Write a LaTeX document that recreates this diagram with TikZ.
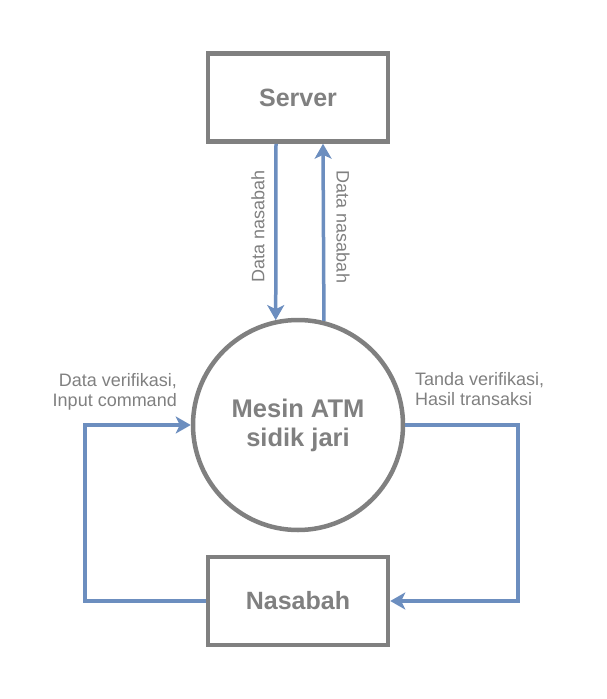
\documentclass[tikz,border=0pt]{standalone}
\usepackage{fontspec}
\setmainfont{Liberation Sans}
\usetikzlibrary{arrows.meta}
\definecolor{gborder}{HTML}{808080}
\definecolor{gtext}{HTML}{808080}
\definecolor{flowblue}{HTML}{6C8EBF}
\tikzset{
  entity/.style={draw=gborder, line width=4.5pt, fill=white, minimum width=180pt, minimum height=88pt,
    inner sep=0pt, text=gtext, font=\fontsize{25}{29}\selectfont\bfseries},
  process/.style={draw=gborder, line width=4.5pt, fill=white, circle, minimum size=210pt,
    inner sep=0pt, text=gtext, align=center, font=\fontsize{25.5}{29}\selectfont\bfseries},
  flow/.style={draw=flowblue, line width=3.5pt, line join=miter,
    -{Stealth[length=15pt, width=17pt, inset=4pt]}},
  lbl/.style={text=gtext, inner sep=0pt, font=\fontsize{18}{20}\selectfont}
}
\begin{document}
\begin{tikzpicture}[x=1pt, y=-1pt]
\useasboundingbox (0,0) rectangle (607,699);
\node[entity] (server) at (298,97.5) {Server};
\node[process] (atm) at (298,425) {Mesin ATM\\sidik jari};
\node[entity] (nas) at (298,601) {Nasabah};
\coordinate (lc) at (85,425);
\coordinate (rc) at (518,601);
\draw[flow] ([xshift=-22pt]server.south) -- (atm.102);
\draw[flow] (atm.76) -- ([xshift=25pt]server.south);
\draw[flow] (nas.west) -| (lc) -- (atm.west);
\draw[flow] (atm.east) -| (rc) -- (nas.east);
\node[lbl, rotate=90] (l1) at (258,226) {Data nasabah};
\node[lbl, rotate=-90] (l2) at (343,227) {Data nasabah};
\node[lbl, align=right, anchor=base east] (l3) at (177,406) {Data verifikasi,\\Input command};
\node[lbl, align=left, anchor=base west] (l4) at (415,405) {Tanda verifikasi,\\Hasil transaksi};
\end{tikzpicture}
\end{document}
